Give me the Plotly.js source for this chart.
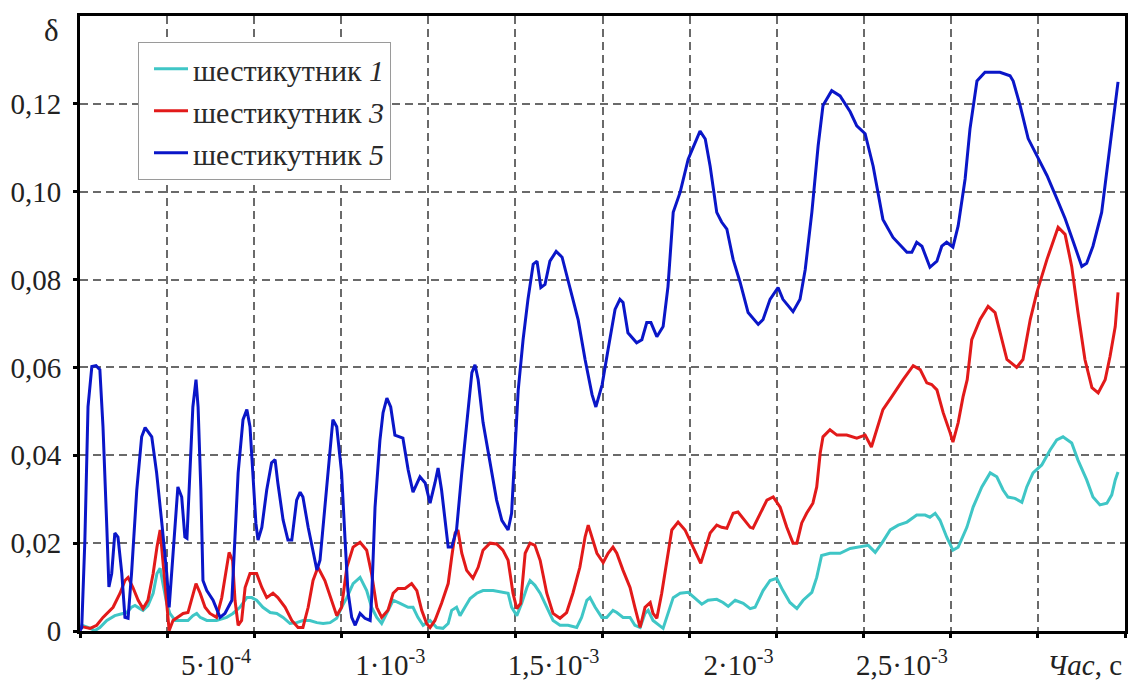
<!DOCTYPE html>
<html><head><meta charset="utf-8">
<script src="https://cdn.plot.ly/plotly-3.0.1.min.js"></script>
<style>
html,body{margin:0;padding:0;background:#fff;}
#chart{width:1128px;height:680px;}
</style>
</head><body><div id="chart"></div>
<script>
// time in milliseconds, delta values (dimensionless)
const tMs1 = [0.000,0.005,0.023,0.043,0.057,0.077,0.100,0.120,0.134,0.148,
0.158,0.172,0.181,0.195,0.210,0.221,0.230,0.238,0.249,0.258,
0.273,0.292,0.310,0.324,0.335,0.345,0.364,0.392,0.421,0.439,
0.459,0.479,0.493,0.507,0.525,0.546,0.565,0.583,0.603,0.622,
0.640,0.660,0.680,0.698,0.718,0.737,0.751,0.766,0.784,0.804,
0.823,0.837,0.852,0.866,0.881,0.899,0.919,0.942,0.956,0.970,
0.985,1.005,1.024,1.042,1.057,1.067,1.081,1.091,1.105,1.120,
1.139,1.157,1.186,1.214,1.229,1.239,1.254,1.268,1.283,1.292,
1.306,1.321,1.340,1.358,1.378,1.401,1.426,1.440,1.455,1.464,
1.479,1.498,1.512,1.530,1.541,1.559,1.579,1.593,1.608,1.622,
1.631,1.645,1.674,1.688,1.703,1.723,1.746,1.766,1.785,1.803,
1.828,1.846,1.861,1.881,1.904,1.924,1.938,1.961,1.981,2.000,
2.018,2.038,2.058,2.076,2.101,2.115,2.129,2.153,2.182,2.211,
2.240,2.263,2.283,2.302,2.326,2.349,2.374,2.402,2.426,2.440,
2.455,2.469,2.488,2.506,2.521,2.546,2.564,2.589,2.613,2.632,
2.650,2.664,2.684,2.704,2.718,2.736,2.761,2.785,2.804,2.822,
2.847,2.865,2.890,2.908,2.928,2.948,2.962,2.972,2.980];
const delta1 = [0.0001,0.0013,0.0008,0.0001,0.0008,0.0024,0.0035,0.0040,0.0042,0.0054,
0.0058,0.0051,0.0047,0.0058,0.0086,0.0131,0.0143,0.0108,0.0063,0.0040,
0.0024,0.0024,0.0024,0.0035,0.0040,0.0031,0.0024,0.0024,0.0031,0.0040,
0.0054,0.0076,0.0076,0.0070,0.0054,0.0042,0.0040,0.0031,0.0017,0.0019,
0.0024,0.0024,0.0019,0.0017,0.0019,0.0029,0.0054,0.0076,0.0108,0.0122,
0.0092,0.0054,0.0031,0.0017,0.0040,0.0070,0.0063,0.0054,0.0054,0.0031,
0.0013,0.0024,0.0008,0.0006,0.0017,0.0047,0.0054,0.0035,0.0054,0.0074,
0.0086,0.0092,0.0092,0.0088,0.0086,0.0054,0.0035,0.0063,0.0099,0.0115,
0.0104,0.0086,0.0054,0.0024,0.0013,0.0013,0.0008,0.0031,0.0070,0.0076,
0.0054,0.0031,0.0031,0.0047,0.0042,0.0031,0.0031,0.0013,0.0008,0.0040,
0.0047,0.0024,0.0006,0.0040,0.0076,0.0086,0.0088,0.0074,0.0061,0.0070,
0.0072,0.0065,0.0056,0.0070,0.0063,0.0051,0.0054,0.0092,0.0115,0.0120,
0.0092,0.0065,0.0051,0.0070,0.0088,0.0122,0.0172,0.0177,0.0177,0.0188,
0.0191,0.0195,0.0179,0.0200,0.0230,0.0241,0.0248,0.0264,0.0264,0.0259,
0.0268,0.0252,0.0214,0.0184,0.0191,0.0236,0.0282,0.0328,0.0360,0.0351,
0.0321,0.0305,0.0302,0.0293,0.0328,0.0360,0.0378,0.0412,0.0435,0.0442,
0.0428,0.0389,0.0344,0.0305,0.0287,0.0291,0.0310,0.0344,0.0362];

const tMs3 = [0.000,0.005,0.029,0.048,0.066,0.095,0.115,0.129,0.138,0.152,
0.167,0.181,0.195,0.210,0.221,0.230,0.237,0.247,0.256,0.267,
0.281,0.296,0.310,0.321,0.333,0.345,0.359,0.373,0.392,0.407,
0.419,0.428,0.438,0.445,0.454,0.464,0.474,0.488,0.507,0.522,
0.536,0.554,0.568,0.589,0.608,0.626,0.640,0.655,0.669,0.683,
0.703,0.723,0.737,0.751,0.766,0.784,0.804,0.823,0.837,0.852,
0.866,0.884,0.899,0.913,0.933,0.952,0.967,0.981,0.995,1.005,
1.019,1.038,1.057,1.067,1.077,1.085,1.096,1.110,1.128,1.143,
1.157,1.177,1.196,1.214,1.229,1.243,1.254,1.265,1.278,1.292,
1.306,1.321,1.340,1.358,1.378,1.397,1.415,1.435,1.450,1.459,
1.469,1.484,1.502,1.516,1.530,1.541,1.559,1.579,1.593,1.608,
1.622,1.637,1.645,1.656,1.670,1.684,1.699,1.717,1.737,1.760,
1.782,1.794,1.809,1.828,1.842,1.857,1.875,1.889,1.904,1.924,
1.932,1.952,1.972,1.990,2.010,2.029,2.047,2.058,2.072,2.086,
2.104,2.115,2.125,2.133,2.153,2.173,2.201,2.230,2.254,2.272,
2.287,2.305,2.330,2.348,2.363,2.392,2.412,2.431,2.445,2.460,
2.478,2.498,2.506,2.521,2.535,2.547,2.560,2.584,2.607,2.627,
2.641,2.661,2.689,2.707,2.728,2.747,2.776,2.808,2.828,2.847,
2.865,2.885,2.905,2.923,2.943,2.957,2.972,2.980];
const delta3 = [0.0001,0.0010,0.0006,0.0013,0.0031,0.0054,0.0086,0.0115,0.0122,0.0099,
0.0070,0.0051,0.0070,0.0131,0.0191,0.0230,0.0168,0.0070,0.0001,0.0024,
0.0031,0.0040,0.0042,0.0076,0.0108,0.0086,0.0054,0.0040,0.0031,0.0076,
0.0131,0.0179,0.0161,0.0070,0.0013,0.0024,0.0099,0.0131,0.0131,0.0099,
0.0076,0.0086,0.0076,0.0054,0.0024,0.0008,0.0008,0.0054,0.0115,0.0145,
0.0115,0.0070,0.0035,0.0054,0.0145,0.0191,0.0202,0.0184,0.0131,0.0054,
0.0031,0.0047,0.0086,0.0097,0.0097,0.0108,0.0092,0.0047,0.0017,0.0008,
0.0024,0.0063,0.0108,0.0168,0.0223,0.0230,0.0177,0.0138,0.0120,0.0145,
0.0184,0.0200,0.0198,0.0184,0.0161,0.0086,0.0051,0.0063,0.0177,0.0200,
0.0195,0.0161,0.0086,0.0040,0.0029,0.0042,0.0086,0.0145,0.0214,0.0241,
0.0214,0.0177,0.0156,0.0177,0.0191,0.0177,0.0138,0.0099,0.0054,0.0008,
0.0054,0.0065,0.0040,0.0029,0.0086,0.0161,0.0230,0.0248,0.0230,0.0191,
0.0154,0.0184,0.0223,0.0241,0.0236,0.0234,0.0268,0.0271,0.0257,0.0236,
0.0234,0.0268,0.0298,0.0305,0.0282,0.0236,0.0200,0.0200,0.0246,0.0268,
0.0291,0.0328,0.0405,0.0442,0.0458,0.0446,0.0446,0.0439,0.0446,0.0419,
0.0458,0.0504,0.0533,0.0556,0.0572,0.0604,0.0595,0.0565,0.0561,0.0549,
0.0497,0.0451,0.0430,0.0474,0.0533,0.0572,0.0663,0.0709,0.0739,0.0725,
0.0679,0.0618,0.0600,0.0618,0.0709,0.0771,0.0846,0.0919,0.0903,0.0830,
0.0725,0.0618,0.0554,0.0542,0.0572,0.0625,0.0693,0.0771];

const tMs5 = [0.000,0.005,0.014,0.023,0.034,0.046,0.057,0.066,0.077,0.083,
0.091,0.100,0.109,0.120,0.129,0.138,0.148,0.163,0.177,0.187,
0.206,0.220,0.235,0.249,0.256,0.263,0.273,0.281,0.292,0.301,
0.307,0.316,0.324,0.333,0.339,0.347,0.353,0.364,0.382,0.402,
0.416,0.436,0.445,0.454,0.468,0.479,0.488,0.497,0.505,0.511,
0.522,0.536,0.550,0.560,0.568,0.583,0.597,0.608,0.622,0.632,
0.640,0.655,0.669,0.680,0.689,0.703,0.718,0.726,0.737,0.751,
0.761,0.769,0.780,0.790,0.804,0.818,0.833,0.837,0.847,0.861,
0.870,0.881,0.892,0.904,0.927,0.942,0.956,0.976,0.991,1.005,
1.019,1.028,1.038,1.048,1.057,1.067,1.081,1.096,1.110,1.125,
1.134,1.143,1.157,1.177,1.196,1.211,1.229,1.239,1.249,1.258,
1.272,1.286,1.301,1.312,1.323,1.335,1.349,1.367,1.384,1.407,
1.430,1.450,1.470,1.481,1.499,1.516,1.536,1.550,1.559,1.573,
1.598,1.613,1.627,1.639,1.656,1.674,1.688,1.703,1.723,1.746,
1.766,1.780,1.795,1.809,1.828,1.842,1.857,1.875,1.895,1.918,
1.947,1.961,1.981,2.004,2.018,2.047,2.067,2.082,2.101,2.119,
2.133,2.158,2.182,2.211,2.230,2.254,2.277,2.305,2.334,2.374,
2.388,2.402,2.417,2.440,2.460,2.474,2.488,2.506,2.521,2.541,
2.555,2.575,2.598,2.641,2.670,2.679,2.699,2.722,2.751,2.776,
2.804,2.828,2.851,2.876,2.890,2.908,2.933,2.951,2.966,2.980];
const delta5 = [0.0001,0.0008,0.0207,0.0510,0.0602,0.0604,0.0595,0.0465,0.0236,0.0100,
0.0131,0.0223,0.0214,0.0131,0.0031,0.0029,0.0131,0.0321,0.0442,0.0463,
0.0442,0.0360,0.0245,0.0131,0.0054,0.0131,0.0259,0.0328,0.0305,0.0214,
0.0211,0.0360,0.0510,0.0572,0.0510,0.0321,0.0115,0.0092,0.0070,0.0031,
0.0040,0.0070,0.0207,0.0360,0.0481,0.0504,0.0465,0.0360,0.0245,0.0207,
0.0236,0.0321,0.0383,0.0390,0.0337,0.0253,0.0207,0.0207,0.0298,0.0316,
0.0305,0.0236,0.0177,0.0139,0.0161,0.0282,0.0397,0.0481,0.0465,0.0360,
0.0207,0.0092,0.0031,0.0013,0.0040,0.0029,0.0024,0.0070,0.0282,0.0434,
0.0497,0.0530,0.0510,0.0446,0.0439,0.0367,0.0316,0.0351,0.0337,0.0291,
0.0337,0.0371,0.0321,0.0252,0.0191,0.0191,0.0230,0.0360,0.0475,0.0588,
0.0606,0.0572,0.0475,0.0383,0.0298,0.0252,0.0230,0.0268,0.0434,0.0548,
0.0663,0.0755,0.0835,0.0842,0.0782,0.0789,0.0842,0.0864,0.0851,0.0777,
0.0709,0.0618,0.0538,0.0510,0.0561,0.0641,0.0732,0.0755,0.0748,0.0679,
0.0656,0.0663,0.0702,0.0702,0.0670,0.0693,0.0784,0.0953,0.0999,0.1074,
0.1113,0.1138,0.1120,0.1058,0.0953,0.0931,0.0915,0.0846,0.0794,0.0725,
0.0698,0.0709,0.0755,0.0782,0.0755,0.0727,0.0755,0.0823,0.0953,0.1104,
0.1196,0.1230,0.1218,0.1182,0.1150,0.1132,0.1058,0.0937,0.0896,0.0862,
0.0862,0.0885,0.0876,0.0828,0.0842,0.0876,0.0885,0.0874,0.0922,0.1029,
0.1143,0.1252,0.1272,0.1272,0.1264,0.1252,0.1196,0.1121,0.1076,0.1037,
0.0985,0.0939,0.0887,0.0830,0.0837,0.0876,0.0953,0.1068,0.1159,0.1250];

const seriesNames = ['шестикутник <i>1</i>', 'шестикутник <i>3</i>', 'шестикутник <i>5</i>'];
const seriesColors = ['#3FC6C6', '#E21A1A', '#0A16C8'];
const xTickVals = [0.0005, 0.001, 0.0015, 0.002, 0.0025, 0.003];
const xTickText = ['5·10<sup>-4</sup>', '1·10<sup>-3</sup>', '1,5·10<sup>-3</sup>', '2·10<sup>-3</sup>', '2,5·10<sup>-3</sup>', '<i>Час</i>, с'];
const yTickVals = [0, 0.02, 0.04, 0.06, 0.08, 0.10, 0.12];
const yTickText = ['0', '0,02', '0,04', '0,06', '0,08', '0,10', '0,12'];
const yLabel = 'δ';

const SERIF = 'Times New Roman';
const series = [[tMs1, delta1], [tMs3, delta3], [tMs5, delta5]];
const traces = series.map((s, i) => ({
  type: 'scatter', mode: 'lines',
  x: s[0].map(v => v * 1e-3), y: s[1],
  name: seriesNames[i],
  line: {color: seriesColors[i], width: 3}
}));

const gridStyle = {showgrid: true, gridcolor: '#6a6a6a', gridwidth: 1.5, griddash: '8px,5px'};
function axisBase() {
  return Object.assign({
    showline: true, linewidth: 3, linecolor: '#000', mirror: true,
    ticks: 'outside', ticklen: 4, tickwidth: 3, tickcolor: '#000',
    zeroline: false, tickfont: {family: SERIF, size: 29, color: '#222'}
  }, gridStyle);
}

const layout = {
  width: 1128, height: 680,
  margin: {l: 80, r: 3, t: 16, b: 49, autoexpand: false},
  paper_bgcolor: '#fff', plot_bgcolor: '#fff',
  font: {family: SERIF, size: 30, color: '#222'},
  showlegend: true,
  legend: {
    x: 0.0555, y: 0.958, xanchor: 'left', yanchor: 'top',
    bgcolor: '#fff', bordercolor: '#9a9a9a', borderwidth: 1,
    font: {family: SERIF, size: 30, color: '#2a2a2a'},
    indentation: 10, itemwidth: 34, tracegroupgap: 0
  },
  xaxis: Object.assign(axisBase(), {
    range: [0, 0.003], tickmode: 'array', tickvals: xTickVals, ticktext: xTickText,
    ticklabelposition: 'outside left', ticklabelstandoff: 6,
    minor: Object.assign({dtick: 0.00025, tick0: 0, ticks: 'outside', ticklen: 4, tickwidth: 3, tickcolor: '#000'}, gridStyle)
  }),
  yaxis: Object.assign(axisBase(), {
    range: [0, 0.14], tickmode: 'array', tickvals: yTickVals, ticktext: yTickText,
    ticklabelstandoff: 6
  }),
  annotations: [{
    text: yLabel, xref: 'paper', yref: 'paper', x: -0.027, y: 0.977,
    xanchor: 'center', yanchor: 'middle', showarrow: false,
    font: {family: SERIF, size: 31, color: '#222'}
  }]
};

Plotly.newPlot('chart', traces, layout, {displayModeBar: false});
</script>
</body></html>
